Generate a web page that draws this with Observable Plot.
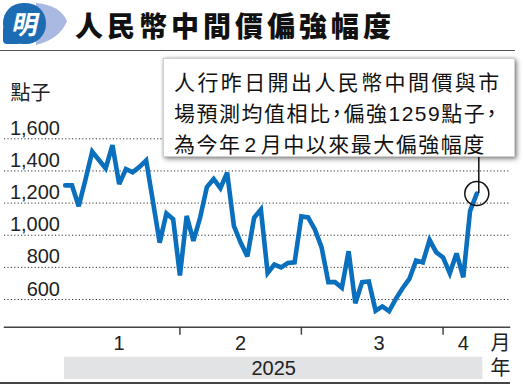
<!DOCTYPE html>
<html>
<head>
<meta charset="utf-8">
<script src="https://cdn.jsdelivr.net/npm/d3@7"></script>
<script src="https://cdn.jsdelivr.net/npm/@observablehq/plot@0.6"></script>
<style>
  html, body { margin: 0; padding: 0; background: #fff; }
  #wrap { position: relative; width: 523px; height: 385px; overflow: hidden;
          font-family: "Liberation Sans", "Noto Sans CJK TC", sans-serif; color: #1a1a1a; }
  #title { position: absolute; left: 75px; top: 9px; height: 32px; line-height: 32px;
           font-family: "Noto Sans CJK TC", sans-serif; font-weight: 900; font-size: 28px;
           letter-spacing: 4px; color: #111; white-space: nowrap; }
  #titleRule { position: absolute; left: 0; top: 50px; width: 515px; height: 1px; background: #555; }
  #logo { position: absolute; left: 0; top: 0; }
  #chart { position: absolute; left: 0; top: 52px; }
  #note { position: absolute; left: 163px; top: 58px; width: 352px; height: 99px; box-sizing: border-box;
          background: #fff; border: 1px solid #d0d0d0;
          box-shadow: 2px 2px 5px rgba(0,0,0,0.45), 0 0 3px rgba(0,0,0,0.2);
          padding: 8px 0 0 10px; font-size: 21px; line-height: 31px; color: #111;
          font-feature-settings: "halt"; white-space: nowrap; }
  #bottomRule { position: absolute; left: 0; top: 382px; width: 510px; height: 1.5px; background: #444; }
</style>
</head>
<body>
<div id="wrap">
  <svg id="logo" width="72" height="48" viewBox="0 0 72 48">
    <path d="M36,3 Q60,5 67,21 Q60,39 36,45 Z" fill="#aab9e2"/>
    <rect x="3" y="3" width="43" height="41" rx="20" fill="#1c6cb4"/>
    <rect x="3" y="26" width="18" height="18" rx="4" fill="#1c6cb4"/>
    <text x="24" y="34" text-anchor="middle" fill="#fff" font-size="26" font-weight="bold"
          font-family="Noto Sans CJK TC" transform="skewX(-12) translate(7,0)">明</text>
  </svg>
  <div id="title">人民幣中間價偏強幅度</div>
  <div id="titleRule"></div>
  <div id="chart"></div>
  <div id="note">
    <div style="letter-spacing:2.4px">人行昨日開出人民幣中間價與市</div>
    <div style="letter-spacing:1.5px">場預測均值相比，偏強1259點子，</div>
    <div style="letter-spacing:1.5px">為今年<span style="margin:0 3px">2</span>月中以來最大偏強幅度</div>
  </div>
  <div id="bottomRule"></div>
</div>
<script>
// Daily (trading-day) strength of the CNY central parity vs. market estimate, in pips
const values = [
  1310, 1310, 1180, 1345, 1520, 1468, 1416, 1560, 1318, 1412,
  1392, 1425, 1465, 1210, 954, 1136, 1100, 749, 1120, 965,
  1110, 1300, 1350, 1293, 1390, 1058, 954, 868, 1109, 1160,
  765, 817, 800, 827, 831, 1117, 1111, 1036, 924, 708,
  708, 673, 900, 577, 708, 712, 530, 557, 527, 604,
  670, 728, 842, 831, 970, 893, 862, 763, 887, 738,
  1150, 1259
];
const yTicks = [600, 800, 1000, 1200, 1400, 1600];
const monthLabels = ["1", "2", "3", "4"];
const monthLabelPos = [8, 26, 46.5, 59];
const monthStarts = [17, 35, 56];
const yearLabels = ["2025"];
const yearStart = [-0.1];
const yearEnd = [61.9];
const yUnit = "點子";
const monthUnit = "月";
const yearUnit = "年";

const data = values.map((v, i) => ({i, v}));
const last = [data[data.length - 1]];
const months = monthLabels.map((label, k) => ({label, pos: monthLabelPos[k]}));
const years = yearLabels.map((label, k) => ({label, start: yearStart[k], end: yearEnd[k]}));

const H = 333;
const frameBottom = 274.7;
const chart = Plot.plot({
  width: 523,
  height: H,
  marginLeft: 4,
  marginRight: 14,
  marginTop: 0,
  marginBottom: H - frameBottom,
  x: {domain: [0, 61], range: [64.7, 476.3], axis: null},
  y: {domain: [600, 1600], range: [247, 86.3], axis: null},
  style: {fontFamily: "'Liberation Sans', 'Noto Sans CJK TC', sans-serif", fontSize: "20px", color: "#1a1a1a", background: "transparent", overflow: "visible"},
  marks: [
    Plot.rect(years, {x1: "start", x2: "end", insetTop: 304.7, insetBottom: -(327 - frameBottom), fill: "#e2e3e5"}),
    Plot.gridY(yTicks, {stroke: "#333", strokeOpacity: 1, strokeWidth: 1, strokeDasharray: "1.2,2.2"}),
    Plot.text(yTicks, {y: d => d, text: d => d3.format(",")(d), frameAnchor: "left", dx: 55.5, dy: -4,
      textAnchor: "end", lineAnchor: "bottom", fill: "#222", fontSize: 20}),
    Plot.text([yUnit], {frameAnchor: "top-left", dx: 6, dy: 41, textAnchor: "start", lineAnchor: "middle", fill: "#222", fontSize: 20}),
    Plot.line(data, {x: "i", y: "v", stroke: "#0a6fbc", strokeWidth: 4.6, strokeLinejoin: "miter", strokeMiterlimit: 3}),
    Plot.ruleX(last, {x: "i", y1: "v", y2: 1600, insetBottom: 12, dx: 2, stroke: "#111", strokeWidth: 1.5}),
    Plot.dot(last, {x: "i", y: "v", r: 12, stroke: "#111", strokeWidth: 1.5, fill: "none"}),
    Plot.frame({anchor: "bottom", stroke: "#444", strokeWidth: 1.5}),
    Plot.axisX({ticks: monthStarts, tickSize: 8, tickFormat: () => "", anchor: "bottom", stroke: "#444", strokeWidth: 1.5, label: null}),
    Plot.text(months, {x: "pos", text: "label", frameAnchor: "bottom", dy: 16.5, lineAnchor: "middle", fill: "#222", fontSize: 20}),
    Plot.text([monthUnit], {frameAnchor: "bottom-right", dx: -9, dy: 16.5, lineAnchor: "middle", textAnchor: "middle", fill: "#222", fontSize: 20}),
    Plot.text(years, {x: d => (d.start + d.end) / 2, text: "label", frameAnchor: "bottom", dy: 41.3, lineAnchor: "middle", fill: "#222", fontSize: 20}),
    Plot.text([yearUnit], {frameAnchor: "bottom-right", dx: -9, dy: 41.3, lineAnchor: "middle", textAnchor: "middle", fill: "#222", fontSize: 20})
  ]
});
document.getElementById("chart").appendChild(chart);
</script>
</body>
</html>
